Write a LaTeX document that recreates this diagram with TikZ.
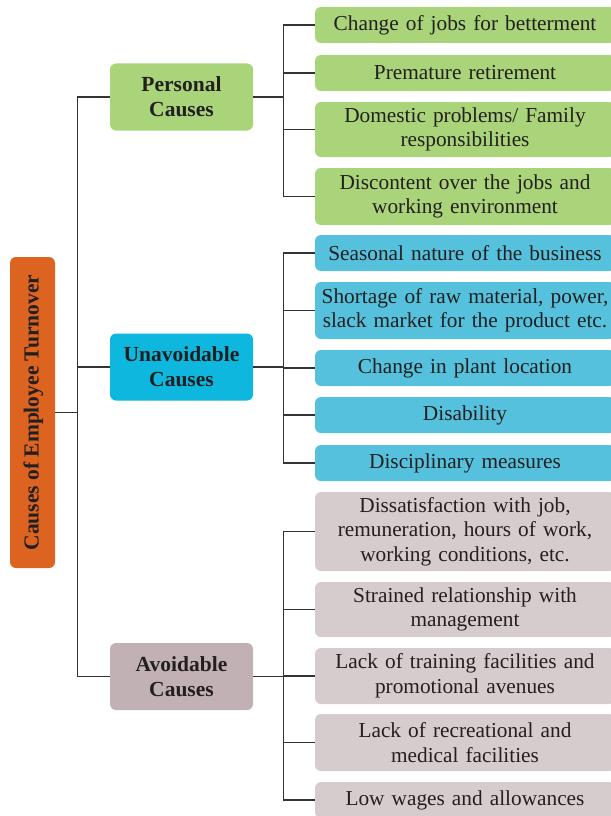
\documentclass[tikz,border=0pt]{standalone}
\usepackage{fontspec}
\setmainfont{Liberation Serif}
\definecolor{rootc}{HTML}{DC6420}
\definecolor{grn}{HTML}{A9D479}
\definecolor{cyp}{HTML}{0DB7DE}
\definecolor{cyc}{HTML}{55C1DC}
\definecolor{mvp}{HTML}{C2B1B4}
\definecolor{mvc}{HTML}{D6CBCD}
\definecolor{txt}{HTML}{231F20}
\definecolor{ln}{HTML}{333333}
\tikzset{
  base/.style={rounded corners=6pt, inner sep=0pt, align=center, text=txt},
  rootbox/.style={base, fill=rootc, minimum width=45pt, minimum height=311pt},
  parbox/.style={base, minimum width=143pt, minimum height=67pt, font=\fontsize{21.5}{25}\selectfont\bfseries},
  chbox/.style={base, minimum width=300pt, text width=296pt, font=\fontsize{21.3}{24.5}\selectfont},
  conn/.style={draw=ln, line width=1.2pt},
}
\begin{document}
\begin{tikzpicture}[x=1pt,y=-1pt]
\useasboundingbox (0,0) rectangle (610,816);
\node[rootbox] (R) at (32.5,412.5) {};
\node[rotate=90, text=txt, font=\fontsize{21.5}{25}\selectfont\bfseries] (Rt) at ([xshift=1pt]R.center) {Causes of Employee Turnover};

\node[parbox, fill=grn] (P) at (181.5,97) {Personal\\Causes};
\node[parbox, fill=cyp] (U) at (181.5,367) {Unavoidable\\Causes};
\node[parbox, fill=mvp] (A) at (181.5,676.5) {Avoidable\\Causes};

\node[chbox, fill=grn, minimum height=36pt] (p1) at (465,25) {Change of jobs for betterment};
\node[chbox, fill=grn, minimum height=36pt] (p2) at (465,73) {Premature retirement};
\node[chbox, fill=grn, minimum height=55pt] (p3) at (465,129.5) {Domestic problems/ Family\\responsibilities};
\node[chbox, fill=grn, minimum height=57pt] (p4) at (465,196.5) {Discontent over the jobs and\\working environment};

\node[chbox, fill=cyc, minimum height=36pt] (u1) at (465,253) {Seasonal nature of the business};
\node[chbox, fill=cyc, minimum height=57pt] (u2) at (465,310.5) {Shortage of raw material, power,\\slack market for the product etc.};
\node[chbox, fill=cyc, minimum height=36pt] (u3) at (465,368) {Change in plant location};
\node[chbox, fill=cyc, minimum height=36pt] (u4) at (465,415) {Disability};
\node[chbox, fill=cyc, minimum height=36pt] (u5) at (465,463) {Disciplinary measures};

\node[chbox, fill=mvc, minimum height=79pt] (a1) at (465,531.5) {Dissatisfaction with job,\\remuneration, hours of work,\\working conditions, etc.};
\node[chbox, fill=mvc, minimum height=55pt] (a2) at (465,609.5) {Strained relationship with\\management};
\node[chbox, fill=mvc, minimum height=56pt] (a3) at (465,676) {Lack of training facilities and\\promotional avenues};
\node[chbox, fill=mvc, minimum height=57pt] (a4) at (465,742.5) {Lack of recreational and\\medical facilities};
\node[chbox, fill=mvc, minimum height=36pt] (a5) at (465,800) {Low wages and allowances};

\foreach \c in {P,U,A} \draw[conn] (R.east) -- ++(22,0) |- (\c.west);
\foreach \c in {p1,p2,p3,p4} \draw[conn] (P.east) -- ++(30,0) |- (\c.west);
\foreach \c in {u1,u2,u3,u4,u5} \draw[conn] (U.east) -- ++(30,0) |- (\c.west);
\foreach \c in {a1,a2,a3,a4,a5} \draw[conn] (A.east) -- ++(30,0) |- (\c.west);
\end{tikzpicture}
\end{document}
